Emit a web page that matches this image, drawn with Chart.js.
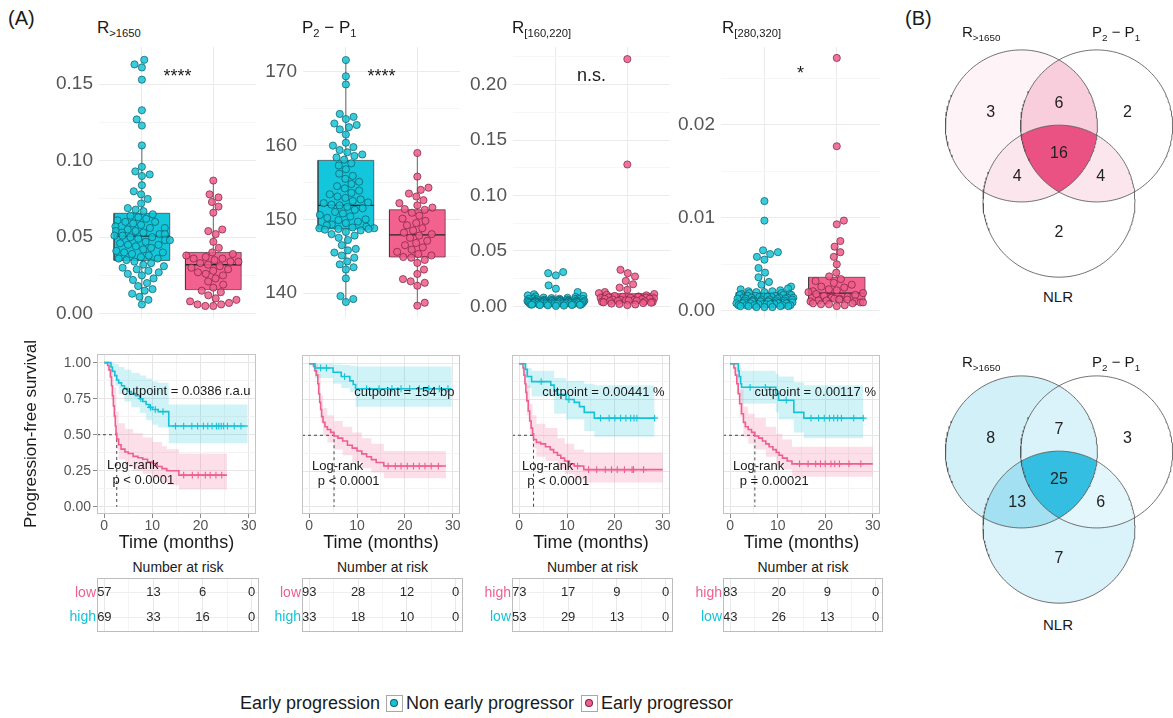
<!DOCTYPE html>
<html>
<head>
<meta charset="utf-8">
<script src="https://cdn.jsdelivr.net/npm/chart.js@4.4.1/dist/chart.umd.min.js"></script>
<style>
  html, body { margin: 0; padding: 0; background: #fff; }
  #fig { position: relative; width: 1173px; height: 718px; overflow: hidden;
         font-family: 'Liberation Sans', Arial, Helvetica, sans-serif; color: #1a1a1a; }
  #fig canvas { position: absolute; }
  .t { position: absolute; white-space: nowrap; line-height: 1; }
  .t sub { font-size: 0.66em; vertical-align: baseline; position: relative; top: 0.38em; }
  .key { position: absolute; width: 15px; height: 15px; border: 1px solid #a8a8a8; background: #fff; }
  .key i { position: absolute; left: 4px; top: 4px; width: 6px; height: 6px; border-radius: 50%; }
</style>
</head>
<body>
<div id="fig"></div>
<script>
// ---------------- colours ----------------
const CYAN = '#14c3d7', PINK = '#ef5f8d';
const CYAN_BOX = '#13c6dc', PINK_BOX = '#f3628f';

// ---------------- (A) box plots: one value per patient ----------------
const r1650Non = [0.166,0.163,0.161,0.153,0.133,0.127,0.123,0.110,0.096,0.093,0.091,0.090,0.084,0.080,0.078,0.075,0.072,0.069,0.068,0.067,
  0.065,0.064,0.063,0.062,0.061,0.060,0.060,0.059,0.058,0.057,0.056,0.056,0.055,0.054,0.054,0.053,0.053,0.052,0.052,0.051,0.051,
  0.050,0.050,0.049,0.048,0.048,0.047,0.046,0.045,0.045,0.044,0.043,0.042,0.041,0.040,0.040,0.039,0.038,0.037,0.036,0.036,0.035,
  0.034,0.033,0.032,0.031,0.030,0.029,0.028,0.027,0.026,0.025,0.023,0.022,0.020,0.018,0.016,0.015,0.013,0.011,0.009,0.006];
const r1650Early = [0.087,0.078,0.076,0.073,0.070,0.066,0.055,0.054,0.052,0.047,0.043,
  0.040,0.039,0.038,0.037,0.036,0.036,0.035,0.034,0.034,0.033,0.032,
  0.031,0.030,0.029,0.028,0.027,0.026,0.025,0.023,0.021,0.019,0.017,
  0.015,0.014,0.012,0.010,0.009,0.008,0.007,0.006,0.006,0.005,0.005];
const p2p1Non = [171.6,169.4,168.3,164.3,163.9,163.6,163.0,162.8,162.5,162.2,161.5,160.4,160.0,159.8,159.4,159.1,158.8,158.6,158.4,158.1,
  157.6,157.3,156.8,156.2,155.9,155.5,155.1,154.8,154.5,154.2,153.9,153.6,153.4,153.1,152.9,152.7,152.5,152.3,152.2,152.0,151.9,
  151.7,151.5,151.3,151.0,150.8,150.6,150.4,150.2,150.0,149.9,149.7,149.5,149.3,149.2,149.0,148.9,148.8,148.8,148.7,148.7,148.6,
  148.5,148.3,148.0,147.8,147.5,147.2,146.5,146.0,145.8,145.5,145.1,144.8,144.3,143.9,143.5,143.2,142.0,139.6,139.2,138.8];
const p2p1Early = [159.0,155.8,154.3,154.0,153.5,153.1,152.6,152.2,151.9,151.6,151.4,
  151.3,150.9,150.5,150.1,149.8,149.5,149.2,148.8,148.5,148.2,148.0,
  147.8,147.5,147.1,146.8,146.5,146.2,145.9,145.6,145.3,145.1,144.9,
  144.8,144.5,144.1,143.2,142.6,141.9,141.6,141.4,141.0,138.7,138.3];
const r160Non = [0.031,0.030,0.028,0.019,0.016,0.013,0.011,0.010,0.0095,0.009,0.0085,0.008,0.0078,0.0075,0.0072,0.007,0.0069,0.0068,0.0067,0.0066,
  0.0064,0.0062,0.006,0.0059,0.0058,0.0057,0.0056,0.0055,0.0054,0.0053,0.0052,0.0051,0.005,0.0049,0.0048,0.0048,0.0047,0.0047,0.0046,0.0046,0.0045,
  0.0044,0.0043,0.0042,0.0042,0.0041,0.004,0.0039,0.0038,0.0037,0.0037,0.0036,0.0035,0.0034,0.0034,0.0033,0.0033,0.0032,0.0031,0.0031,0.003,0.003,
  0.0029,0.0028,0.0027,0.0026,0.0025,0.0024,0.0023,0.0022,0.0021,0.002,0.0019,0.0018,0.0017,0.0016,0.0015,0.0013,0.0012,0.001,0.0008,0.0005];
const r160Early = [0.223,0.128,0.033,0.030,0.027,0.023,0.020,0.017,0.015,0.013,0.012,
  0.0112,0.0105,0.010,0.0095,0.009,0.0088,0.0085,0.0082,0.008,0.0078,0.0076,
  0.0073,0.007,0.0068,0.0065,0.0062,0.006,0.0058,0.0056,0.0054,0.0052,0.005,
  0.0048,0.0045,0.0042,0.004,0.0037,0.0034,0.003,0.0026,0.0022,0.0018,0.0012];
const r280Non = [0.0118,0.0097,0.0065,0.0063,0.0061,0.0058,0.0055,0.0046,0.0041,0.0036,0.0031,0.0028,0.0026,0.0024,0.0023,0.0022,0.0021,0.0021,0.002,0.002,
  0.0019,0.0019,0.0018,0.0018,0.0017,0.0017,0.0017,0.0016,0.0016,0.0016,0.0015,0.0015,0.0015,0.0015,0.0014,0.0014,0.0014,0.0014,0.0014,0.0013,0.0013,
  0.0013,0.0013,0.0012,0.0012,0.0012,0.0012,0.0011,0.0011,0.0011,0.0011,0.001,0.001,0.001,0.001,0.001,0.0009,0.0009,0.0009,0.0009,0.0008,0.0008,
  0.0008,0.0008,0.0008,0.0007,0.0007,0.0007,0.0007,0.0007,0.0006,0.0006,0.0006,0.0006,0.0006,0.0005,0.0005,0.0005,0.0005,0.0004,0.0004,0.0004];
const r280Early = [0.0272,0.0177,0.0097,0.0093,0.0075,0.0069,0.0063,0.0058,0.0050,0.0041,0.0037,
  0.0034,0.0032,0.003,0.0028,0.0026,0.0025,0.0023,0.0022,0.0021,0.002,0.0019,
  0.0018,0.0017,0.0016,0.0015,0.0015,0.0014,0.0013,0.0013,0.0012,0.0012,0.0011,
  0.0011,0.001,0.001,0.0009,0.0009,0.0008,0.0008,0.0007,0.0007,0.0006,0.0005];

// box statistics: [lower whisker, Q1, median, Q3, upper whisker]
const r1650BoxNon = [0.006, 0.0348, 0.0507, 0.0656, 0.110];
const r1650BoxEarly = [0.005, 0.0157, 0.032, 0.040, 0.087];
const p2p1BoxNon = [138.8, 148.7, 151.9, 158.0, 171.6];
const p2p1BoxEarly = [138.3, 144.9, 147.9, 151.3, 159.0];
const r160BoxNon = [0.0005, 0.003, 0.0045, 0.0065, 0.011];
const r160BoxEarly = [0.0012, 0.0045, 0.0072, 0.0115, 0.020];
const r280BoxNon = [0.0004, 0.00085, 0.00135, 0.00195, 0.0036];
const r280BoxEarly = [0.0005, 0.0011, 0.0019, 0.0036, 0.0069];

// y tick labels of the four box plots
const r1650Ticks = [0, 0.05, 0.10, 0.15];
const p2p1Ticks = [140, 150, 160, 170];
const r160Ticks = [0, 0.05, 0.10, 0.15, 0.20];
const r280Ticks = [0, 0.01, 0.02];
const signifLabels = ['****', '****', 'n.s.', '*'];

// ---------------- Kaplan-Meier curves (time in months, survival) ----------------
// panel 1: R>1650, cutpoint 0.0386 r.a.u
const km1HighT = [0, 1.4, 1.7, 2.2, 2.6, 3.0, 3.6, 4.2, 4.8, 5.6, 6.5, 7.4, 8.0, 8.7, 9.3, 10.0, 11.2, 13.4];
const km1HighS = [1, 0.97, 0.94, 0.91, 0.88, 0.86, 0.84, 0.82, 0.80, 0.785, 0.77, 0.75, 0.73, 0.71, 0.69, 0.675, 0.66, 0.56];
const km1HighCiT = [0, 1.4, 2.2, 3.0, 4.2, 5.6, 7.4, 8.7, 10.0, 11.2, 13.4];
const km1HighUp = [1, 1, 0.99, 0.97, 0.95, 0.93, 0.91, 0.89, 0.87, 0.86, 0.71];
const km1HighLo = [1, 0.93, 0.84, 0.78, 0.73, 0.69, 0.65, 0.60, 0.57, 0.55, 0.44];
const km1HighCens = [7.6, 9.6, 10.6, 12.2, 14.8, 16.5, 18.2, 19.4, 20.6, 21.5, 22.4, 23.3, 23.8, 24.3, 24.8, 25.6, 27.0, 28.4];
const km1HighEnd = 29.8;
const km1LowT = [0, 0.7, 1.0, 1.3, 1.5, 1.7, 1.9, 2.1, 2.3, 2.45, 2.6, 3.0, 3.5, 4.3, 5.0, 6.0, 7.0, 8.0, 9.0, 10.0, 11.0, 12.0, 13.0, 15.5];
const km1LowS = [1, 0.98, 0.95, 0.90, 0.84, 0.77, 0.70, 0.63, 0.56, 0.51, 0.47, 0.43, 0.40, 0.38, 0.37, 0.35, 0.34, 0.33, 0.31, 0.30, 0.28, 0.265, 0.25, 0.22];
const km1LowCiT = [0, 0.7, 1.0, 1.5, 2.0, 2.5, 3.0, 4.3, 6.0, 8.0, 10.0, 12.0, 13.0, 15.5];
const km1LowUp = [1, 1, 1, 0.95, 0.83, 0.66, 0.58, 0.54, 0.51, 0.48, 0.45, 0.42, 0.40, 0.37];
const km1LowLo = [1, 0.94, 0.90, 0.74, 0.61, 0.40, 0.33, 0.28, 0.25, 0.23, 0.20, 0.17, 0.15, 0.12];
const km1LowCens = [16.5, 18.3, 19.5, 21.0, 22.0, 23.2, 24.4];
const km1LowEnd = 25.5;

// panel 2: P2 - P1, cutpoint 154 bp
const km2HighT = [0, 1.2, 5.0, 6.7, 8.5, 9.2, 9.7];
const km2HighS = [1, 0.97, 0.94, 0.91, 0.88, 0.855, 0.825];
const km2HighCiT = [0, 1.2, 5.0, 6.7, 8.5, 9.7];
const km2HighUp = [1, 1, 0.995, 0.99, 0.985, 0.98];
const km2HighLo = [1, 0.90, 0.86, 0.83, 0.80, 0.70];
const km2HighCens = [2.4, 3.6, 7.4, 12.0, 14.6, 17.3, 19.2, 21.0, 23.0, 25.0, 27.2, 29.0];
const km2HighEnd = 29.8;
const km2LowT = [0, 0.9, 1.2, 1.5, 1.8, 2.0, 2.2, 2.4, 2.6, 2.9, 3.3, 3.8, 4.5, 5.2, 6.0, 7.0, 8.0, 9.0, 10.0, 11.0, 12.0, 13.0, 14.0, 15.6];
const km2LowS = [1, 0.98, 0.95, 0.92, 0.86, 0.79, 0.73, 0.68, 0.63, 0.59, 0.56, 0.54, 0.52, 0.495, 0.48, 0.46, 0.43, 0.41, 0.39, 0.37, 0.35, 0.33, 0.31, 0.285];
const km2LowCiT = [0, 0.9, 1.2, 1.8, 2.4, 2.9, 3.8, 5.2, 7.0, 9.0, 11.0, 13.0, 15.6];
const km2LowUp = [1, 1, 1, 0.93, 0.78, 0.69, 0.64, 0.60, 0.56, 0.52, 0.48, 0.44, 0.39];
const km2LowLo = [1, 0.95, 0.91, 0.79, 0.59, 0.50, 0.45, 0.40, 0.36, 0.31, 0.27, 0.24, 0.20];
const km2LowCens = [16.5, 18.0, 19.2, 20.5, 21.8, 23.0, 24.2, 25.5, 27.0];
const km2LowEnd = 28.6;

// panel 3: R[160,220], cutpoint 0.00441 %
const km3LowT = [0, 1.3, 1.7, 2.6, 6.6, 7.3, 8.0, 9.8, 11.5, 12.6, 13.6, 15.7];
const km3LowS = [1, 0.96, 0.91, 0.875, 0.85, 0.81, 0.785, 0.75, 0.73, 0.70, 0.66, 0.62];
const km3LowCiT = [0, 1.3, 1.7, 2.6, 7.3, 9.8, 13.6, 15.7];
const km3LowUp = [1, 1, 0.97, 0.95, 0.90, 0.88, 0.86, 0.85];
const km3LowLo = [1, 0.90, 0.83, 0.77, 0.65, 0.61, 0.53, 0.49];
const km3LowCens = [4.6, 10.4, 17.0, 18.8, 20.0, 21.2, 22.3, 23.3, 24.0, 24.6, 28.3];
const km3LowEnd = 28.3;
const km3HighT = [0, 0.8, 1.0, 1.2, 1.4, 1.6, 1.9, 2.2, 2.5, 2.8, 3.0, 3.6, 4.5, 5.5, 6.5, 7.2, 8.0, 8.7, 9.5, 10.5, 11.5, 13.5];
const km3HighS = [1, 0.97, 0.92, 0.86, 0.80, 0.74, 0.67, 0.60, 0.55, 0.51, 0.47, 0.45, 0.44, 0.42, 0.40, 0.38, 0.36, 0.34, 0.32, 0.30, 0.285, 0.26];
const km3HighCiT = [0, 0.8, 1.2, 1.6, 2.2, 2.8, 3.6, 5.5, 8.0, 9.5, 11.5, 13.5];
const km3HighUp = [1, 1, 0.95, 0.85, 0.72, 0.64, 0.58, 0.55, 0.48, 0.44, 0.40, 0.38];
const km3HighLo = [1, 0.93, 0.78, 0.64, 0.50, 0.41, 0.35, 0.32, 0.26, 0.23, 0.19, 0.17];
const km3HighCens = [12.2, 14.5, 16.2, 18.0, 19.3, 20.5, 22.0, 23.6, 23.9, 26.0];
const km3HighEnd = 30;

// panel 4: R[280,320], cutpoint 0.00117 %
const km4LowT = [0, 1.7, 1.9, 2.2, 2.4, 9.6, 10.2, 13.4, 15.5];
const km4LowS = [1, 0.95, 0.91, 0.86, 0.835, 0.79, 0.745, 0.66, 0.62];
const km4LowCiT = [0, 1.7, 2.2, 2.4, 9.6, 10.2, 13.4, 15.5];
const km4LowUp = [1, 1, 0.97, 0.95, 0.93, 0.91, 0.87, 0.85];
const km4LowLo = [1, 0.89, 0.77, 0.72, 0.66, 0.61, 0.52, 0.48];
const km4LowCens = [4.2, 7.4, 11.8, 17.0, 18.6, 19.8, 20.9, 21.8, 22.6, 23.4, 26.0, 28.0];
const km4LowEnd = 28.0;
const km4HighT = [0, 0.8, 1.1, 1.4, 1.7, 2.0, 2.4, 2.8, 3.2, 3.8, 4.5, 5.2, 6.0, 6.8, 7.5, 8.2, 9.0, 9.7, 10.3, 11.0, 12.0, 13.0];
const km4HighS = [1, 0.97, 0.92, 0.86, 0.79, 0.72, 0.65, 0.59, 0.56, 0.54, 0.52, 0.495, 0.48, 0.46, 0.44, 0.42, 0.40, 0.38, 0.36, 0.34, 0.32, 0.30];
const km4HighCiT = [0, 0.8, 1.4, 2.0, 2.8, 3.8, 5.2, 7.5, 9.7, 11.0, 13.0];
const km4HighUp = [1, 1, 0.94, 0.82, 0.70, 0.65, 0.62, 0.56, 0.51, 0.47, 0.42];
const km4HighLo = [1, 0.93, 0.79, 0.63, 0.49, 0.44, 0.40, 0.35, 0.29, 0.26, 0.21];
const km4HighCens = [14.6, 16.4, 18.0, 19.0, 20.0, 21.2, 22.0, 23.0, 25.0, 27.5];
const km4HighEnd = 30;

const survTicks = [0, 0.25, 0.5, 0.75, 1];
const timeTicks = [0, 10, 20, 30];
const cutpointLabels = ['cutpoint = 0.0386 r.a.u', 'cutpoint = 154 bp', 'cutpoint = 0.00441 %', 'cutpoint = 0.00117 %'];
const pValueLabels = ['p < 0.0001', 'p < 0.0001', 'p < 0.0001', 'p = 0.00021'];

// ---------------- numbers at risk at timeTicks ----------------
const risk1Low = [57, 13, 6, 0], risk1High = [69, 33, 16, 0];
const risk2Low = [93, 28, 12, 0], risk2High = [33, 18, 10, 0];
const risk3High = [73, 17, 9, 0], risk3Low = [53, 29, 13, 0];
const risk4High = [83, 20, 9, 0], risk4Low = [43, 26, 13, 0];

// ---------------- (B) Venn diagrams: counts per region ----------------
const vennRegions = ['A', 'AB', 'B', 'ABC', 'AC', 'BC', 'C'];
const vennEarly = [3, 6, 2, 16, 4, 4, 2];
const vennNonEarly = [8, 7, 3, 25, 13, 6, 7];

// =====================================================================
const FONT = "'Liberation Sans', Arial, Helvetica, sans-serif";
Chart.defaults.font.family = FONT;
Chart.defaults.color = '#4d4d4d';
const fig = document.getElementById('fig');

// text drawn at data coordinates
Chart.register({
  id: 'notes',
  afterDatasetsDraw(chart, args, opts) {
    const items = (opts && opts.items) || [];
    const xs = chart.scales.x, ys = chart.scales.y, ctx = chart.ctx;
    ctx.save();
    for (const it of items) {
      ctx.font = it.font || ('13px ' + FONT);
      ctx.fillStyle = it.color || '#1a1a1a';
      ctx.textAlign = it.align || 'center';
      ctx.textBaseline = it.baseline || 'middle';
      ctx.fillText(it.text, xs.getPixelForValue(it.x), ys.getPixelForValue(it.y));
    }
    ctx.restore();
  }
});
// panel border
Chart.register({
  id: 'frame',
  afterDatasetsDraw(chart, args, opts) {
    if (!opts || !opts.color) return;
    const a = chart.chartArea, ctx = chart.ctx;
    ctx.save();
    ctx.strokeStyle = opts.color;
    ctx.lineWidth = 1;
    ctx.strokeRect(Math.round(a.left) + 0.5, Math.round(a.top) + 0.5,
                   Math.round(a.right - a.left) - 1, Math.round(a.bottom - a.top) - 1);
    ctx.restore();
  }
});

function addText(html, x, base, size, align, color) {
  const d = document.createElement('div');
  d.className = 't';
  d.innerHTML = html;
  d.style.fontSize = size + 'px';
  d.style.left = x + 'px';
  d.style.top = (base - 0.847 * size) + 'px';
  if (align === 'center') d.style.transform = 'translateX(-50%)';
  if (align === 'right') d.style.transform = 'translateX(-100%)';
  if (color) d.style.color = color;
  fig.appendChild(d);
}

function chartAt(plot, m, config) {
  const w = plot.r - plot.l + m.l + m.r, h = plot.b - plot.t + m.t + m.b;
  const cv = document.createElement('canvas');
  cv.width = w; cv.height = h;
  Object.assign(cv.style, { left: (plot.l - m.l) + 'px', top: (plot.t - m.t) + 'px', width: w + 'px', height: h + 'px' });
  fig.appendChild(cv);
  const o = config.options;
  o.responsive = false; o.animation = false; o.devicePixelRatio = 1; o.events = [];
  o.layout = { padding: { left: 0, top: m.t, right: m.r, bottom: 0 } };
  o.plugins = Object.assign({ legend: { display: false }, tooltip: { enabled: false } }, o.plugins || {});
  o.scales.x.afterFit = s => { s.height = m.b; s.paddingLeft = 0; s.paddingRight = 0; };
  o.scales.y.afterFit = s => { s.width = m.l; s.paddingTop = 0; s.paddingBottom = 0; };
  return new Chart(cv, config);
}

function withMinor(majors, lo, hi) {
  const step = majors[1] - majors[0];
  const out = majors.slice();
  for (let i = -1; i < majors.length; i++) {
    const v = +((i < 0 ? majors[0] - step / 2 : majors[i] + step / 2).toFixed(8));
    if (v > lo && v < hi) out.push(v);
  }
  return out.sort((a, b) => a - b);
}

function poly(pts, color, width, extra) {
  return Object.assign({ type: 'scatter', showLine: true, data: pts, borderColor: color, borderWidth: width,
                         pointRadius: 0, fill: false, clip: false }, extra || {});
}

// beeswarm placement of points (pixel space), wrapped inside the box width
function swarmX(values, center, chart, spacing, halfWidth) {
  const xs = chart.scales.x, ys = chart.scales.y;
  const pxu = xs.getPixelForValue(center + 1) - xs.getPixelForValue(center);
  const order = values.map((v, i) => i).sort((a, b) => values[a] - values[b]);
  const placed = [], res = new Array(values.length), lim = halfWidth * pxu;
  for (const i of order) {
    const py = ys.getPixelForValue(values[i]);
    const blocked = [];
    for (const q of placed) {
      const dy = py - q.py;
      if (Math.abs(dy) < spacing) {
        const dx = Math.sqrt(spacing * spacing - dy * dy);
        blocked.push([q.px - dx, q.px + dx]);
      }
    }
    const cands = [0];
    for (const [a, b] of blocked) cands.push(a, b);
    cands.sort((a, b) => Math.abs(a) - Math.abs(b) || (i % 2 ? a - b : b - a));
    let px = 0;
    for (const c of cands) {
      if (blocked.every(([a, b]) => c <= a + 1e-9 || c >= b - 1e-9)) { px = c; break; }
    }
    placed.push({ py, px });
    let wx = px;
    if (Math.abs(wx) > lim) wx = (((wx + lim) % (2 * lim)) + 2 * lim) % (2 * lim) - lim;
    res[i] = center + wx / pxu;
  }
  return res;
}

// ---------------- (A) top row: box plots ----------------
const HW = 0.39;
function boxPanel(p) {
  const all = withMinor(p.ticks, p.yMin, p.yMax);
  const isMajor = v => p.ticks.includes(v);
  const rect = (c, b) => [{ x: c - HW, y: b[1] }, { x: c + HW, y: b[1] }, { x: c + HW, y: b[3] }, { x: c - HW, y: b[3] }, { x: c - HW, y: b[1] }];
  const chart = chartAt(p.plot, { l: 80, r: 2, t: 2, b: 0 }, {
    type: 'scatter',
    data: { datasets: [
      { data: p.non.map(v => ({ x: 1, y: v })), pointRadius: 3.6, borderWidth: 0.8,
        backgroundColor: 'rgba(20,196,214,0.85)', borderColor: 'rgba(12,92,104,0.9)' },
      { data: p.early.map(v => ({ x: 2, y: v })), pointRadius: 3.6, borderWidth: 0.8,
        backgroundColor: 'rgba(238,92,138,0.85)', borderColor: 'rgba(122,34,64,0.9)' },
      poly([{ x: 1 - HW, y: p.boxNon[2] }, { x: 1 + HW, y: p.boxNon[2] }], '#262626', 1.4),
      poly([{ x: 2 - HW, y: p.boxEarly[2] }, { x: 2 + HW, y: p.boxEarly[2] }], '#262626', 1.4),
      poly(rect(1, p.boxNon), '#3a3a3a', 0.7, { fill: 'shape', backgroundColor: CYAN_BOX }),
      poly(rect(2, p.boxEarly), '#3a3a3a', 0.7, { fill: 'shape', backgroundColor: PINK_BOX }),
      poly([{ x: 1, y: p.boxNon[0] }, { x: 1, y: p.boxNon[4] }], '#555', 0.9),
      poly([{ x: 2, y: p.boxEarly[0] }, { x: 2, y: p.boxEarly[4] }], '#555', 0.9)
    ] },
    options: {
      scales: {
        x: { type: 'linear', min: 0.4, max: 2.6, afterBuildTicks: s => { s.ticks = [{ value: 1 }, { value: 2 }]; },
             ticks: { display: false }, grid: { color: '#ebebeb', drawTicks: false }, border: { display: false } },
        y: { type: 'linear', min: p.yMin, max: p.yMax, afterBuildTicks: s => { s.ticks = all.map(v => ({ value: v })); },
             ticks: { autoSkip: false, padding: 6, color: '#555', font: { size: 19 },
                      callback: v => isMajor(v) ? v.toFixed(p.dec) : '' },
             grid: { drawTicks: false, color: c => (c.tick && isMajor(c.tick.value)) ? '#ebebeb' : '#f6f6f6' },
             border: { display: false } }
      },
      plugins: { notes: { items: [{ x: 1.5, y: p.signifY, text: p.signif, baseline: 'alphabetic', font: '18px ' + FONT }] } }
    }
  });
  chart.data.datasets[0].data = swarmX(p.non, 1, chart, 8, 0.4).map((x, i) => ({ x, y: p.non[i] }));
  chart.data.datasets[1].data = swarmX(p.early, 2, chart, 8, 0.4).map((x, i) => ({ x, y: p.early[i] }));
  chart.update('none');
}

const boxPlots = [
  { plot: { l: 99, r: 259, t: 44, b: 323 }, non: r1650Non, early: r1650Early, boxNon: r1650BoxNon, boxEarly: r1650BoxEarly,
    ticks: r1650Ticks, dec: 2, yMin: -0.003, yMax: 0.1745, signif: signifLabels[0], signifY: 0.1515 },
  { plot: { l: 303, r: 463, t: 44, b: 323 }, non: p2p1Non, early: p2p1Early, boxNon: p2p1BoxNon, boxEarly: p2p1BoxEarly,
    ticks: p2p1Ticks, dec: 0, yMin: 136.6, yMax: 173.4, signif: signifLabels[1], signifY: 168.6 },
  { plot: { l: 513, r: 673, t: 44, b: 323 }, non: r160Non, early: r160Early, boxNon: r160BoxNon, boxEarly: r160BoxEarly,
    ticks: r160Ticks, dec: 2, yMin: -0.0106, yMax: 0.2341, signif: signifLabels[2], signifY: 0.2035 },
  { plot: { l: 721, r: 883, t: 44, b: 323 }, non: r280Non, early: r280Early, boxNon: r280BoxNon, boxEarly: r280BoxEarly,
    ticks: r280Ticks, dec: 2, yMin: -0.0008, yMax: 0.0284, signif: signifLabels[3], signifY: 0.0249 }
];
boxPlots.forEach(boxPanel);

// ---------------- (A) middle row: Kaplan-Meier ----------------
const stepAt = (t, s, x) => { let v = s[0]; for (let i = 0; i < t.length; i++) if (t[i] <= x) v = s[i]; return v; };
const stepData = (t, s, end) => t.map((x, i) => ({ x, y: s[i] })).concat([{ x: end, y: s[s.length - 1] }]);
const T_MIN = -1.5, T_MAX = 31.5;

function kmPanel(k, idx) {
  const first = idx === 0;
  const m = first ? { l: 80, r: 2, t: 22, b: 42 } : { l: 8, r: 2, t: 4, b: 42 };
  const sAll = withMinor(survTicks, -0.05, 1.06), tAll = withMinor(timeTicks, T_MIN, T_MAX);
  const med = k.groups.map(g => { const i = g.s.findIndex(v => v <= 0.5); return i < 0 ? null : g.t[i]; }).find(v => v !== null);
  const [g1, g2] = k.groups;   // g1: cyan, g2: pink
  const line = (g) => poly(stepData(g.t, g.s, g.end), g.color, 1.6, { stepped: true, clip: 2 });
  const cens = (g) => ({ type: 'scatter', data: g.cens.map(x => ({ x, y: stepAt(g.t, g.s, x) })), pointStyle: 'cross',
                         pointRadius: 3.4, borderWidth: 1.1, borderColor: g.color, backgroundColor: g.color });
  const ds = [
    line(g1), line(g2), cens(g1), cens(g2),
    poly([{ x: T_MIN, y: 0.5 }, { x: med, y: 0.5 }, { x: med, y: 0 }], '#333', 0.9, { borderDash: [3, 3] }),
    poly(stepData(g1.ciT, g1.up, g1.end), 'rgba(0,0,0,0)', 0, { stepped: true }),
    poly(stepData(g1.ciT, g1.lo, g1.end), 'rgba(0,0,0,0)', 0, { stepped: true, fill: 5, backgroundColor: 'rgba(20,195,215,0.2)' }),
    poly(stepData(g2.ciT, g2.up, g2.end), 'rgba(0,0,0,0)', 0, { stepped: true }),
    poly(stepData(g2.ciT, g2.lo, g2.end), 'rgba(0,0,0,0)', 0, { stepped: true, fill: 7, backgroundColor: 'rgba(239,95,141,0.2)' })
  ];
  chartAt(k.plot, m, {
    type: 'scatter',
    data: { datasets: ds },
    options: {
      scales: {
        x: { type: 'linear', min: T_MIN, max: T_MAX, afterBuildTicks: s => { s.ticks = tAll.map(v => ({ value: v })); },
             ticks: { autoSkip: false, maxRotation: 0, padding: 0, color: '#555', font: { size: 14 },
                      callback: v => timeTicks.includes(v) ? String(v) : '' },
             grid: { color: c => timeTicks.includes(c.tick && c.tick.value) ? '#e6e6e6' : '#f3f3f3', tickLength: 4,
                     tickColor: c => timeTicks.includes(c.tick && c.tick.value) ? '#8a8a8a' : 'rgba(0,0,0,0)' },
             border: { display: false },
             title: { display: true, text: 'Time (months)', color: '#1a1a1a', font: { size: 18 }, padding: { top: 0, bottom: 2 } } },
        y: { type: 'linear', min: -0.05, max: 1.06, afterBuildTicks: s => { s.ticks = sAll.map(v => ({ value: v })); },
             ticks: { display: first, autoSkip: false, padding: 2, color: '#555', font: { size: 14 },
                      callback: v => survTicks.includes(v) ? v.toFixed(2) : '' },
             grid: { color: c => survTicks.includes(c.tick && c.tick.value) ? '#e6e6e6' : '#f3f3f3', drawTicks: first, tickLength: 4,
                     tickColor: c => survTicks.includes(c.tick && c.tick.value) ? '#8a8a8a' : 'rgba(0,0,0,0)' },
             border: { display: false },
             title: { display: first, text: 'Progression-free survival', color: '#1a1a1a', font: { size: 17 }, padding: { top: 4, bottom: 0 } } }
      },
      plugins: {
        frame: { color: '#c4c4c4' },
        notes: { items: [
          { x: k.cutX, y: 0.80, text: k.cut },
          { x: 0.6, y: 0.285, text: 'Log-rank', align: 'left' },
          { x: k.pX, y: 0.18, text: k.p, align: 'left' }
        ] }
      }
    }
  });
}

const grp = (t, s, end, ciT, up, lo, cens, color) => ({ t, s, end, ciT, up, lo, cens, color });
const kmPanels = [
  { plot: { l: 97, r: 259, t: 354, b: 514 }, cut: cutpointLabels[0], cutX: 17.0, p: pValueLabels[0], pX: 1.7,
    groups: [grp(km1HighT, km1HighS, km1HighEnd, km1HighCiT, km1HighUp, km1HighLo, km1HighCens, CYAN),
             grp(km1LowT, km1LowS, km1LowEnd, km1LowCiT, km1LowUp, km1LowLo, km1LowCens, PINK)] },
  { plot: { l: 302, r: 463, t: 354, b: 514 }, cut: cutpointLabels[1], cutX: 19.9, p: pValueLabels[1], pX: 1.8,
    groups: [grp(km2HighT, km2HighS, km2HighEnd, km2HighCiT, km2HighUp, km2HighLo, km2HighCens, CYAN),
             grp(km2LowT, km2LowS, km2LowEnd, km2LowCiT, km2LowUp, km2LowLo, km2LowCens, PINK)] },
  { plot: { l: 512, r: 673, t: 354, b: 514 }, cut: cutpointLabels[2], cutX: 17.6, p: pValueLabels[2], pX: 1.7,
    groups: [grp(km3LowT, km3LowS, km3LowEnd, km3LowCiT, km3LowUp, km3LowLo, km3LowCens, CYAN),
             grp(km3HighT, km3HighS, km3HighEnd, km3HighCiT, km3HighUp, km3HighLo, km3HighCens, PINK)] },
  { plot: { l: 723, r: 883, t: 354, b: 514 }, cut: cutpointLabels[3], cutX: 17.9, p: pValueLabels[3], pX: 2.0,
    groups: [grp(km4LowT, km4LowS, km4LowEnd, km4LowCiT, km4LowUp, km4LowLo, km4LowCens, CYAN),
             grp(km4HighT, km4HighS, km4HighEnd, km4HighCiT, km4HighUp, km4HighLo, km4HighCens, PINK)] }
];
kmPanels.forEach(kmPanel);

// ---------------- (A) bottom row: numbers at risk ----------------
const riskTables = [
  { top: ['low', PINK, risk1Low], bottom: ['high', CYAN, risk1High] },
  { top: ['low', PINK, risk2Low], bottom: ['high', CYAN, risk2High] },
  { top: ['high', PINK, risk3High], bottom: ['low', CYAN, risk3Low] },
  { top: ['high', PINK, risk4High], bottom: ['low', CYAN, risk4Low] }
];
riskTables.forEach((rt, i) => {
  const kp = kmPanels[i].plot;
  const plot = { l: kp.l, r: kp.r, t: 578, b: 632 };
  const tAll = withMinor(timeTicks, T_MIN, T_MAX);
  const items = [];
  timeTicks.forEach((t, j) => {
    items.push({ x: t, y: 2, text: String(rt.top[2][j]), color: '#2a2a2a' });
    items.push({ x: t, y: 1, text: String(rt.bottom[2][j]), color: '#2a2a2a' });
  });
  chartAt(plot, { l: 40, r: 2, t: 2, b: 2 }, {
    type: 'scatter',
    data: { datasets: [] },
    options: {
      scales: {
        x: { type: 'linear', min: T_MIN, max: T_MAX, afterBuildTicks: s => { s.ticks = tAll.map(v => ({ value: v })); },
             ticks: { display: false }, grid: { drawTicks: false, color: c => timeTicks.includes(c.tick && c.tick.value) ? '#e8e8e8' : '#f4f4f4' },
             border: { display: false } },
        y: { type: 'linear', min: 0.4, max: 2.6, afterBuildTicks: s => { s.ticks = [{ value: 1 }, { value: 2 }]; },
             ticks: { autoSkip: false, padding: 1, font: { size: 14 }, callback: v => v === 2 ? rt.top[0] : rt.bottom[0],
                      color: c => c.tick && c.tick.value === 2 ? rt.top[1] : rt.bottom[1] },
             grid: { drawTicks: false, color: '#eeeeee' }, border: { display: false } }
      },
      plugins: { frame: { color: '#bdbdbd' }, notes: { items: items.map(o => Object.assign(o, { font: '13px ' + FONT })) } }
    }
  });
  addText('Number at risk', (plot.l + plot.r) / 2, 572, 14, 'center', '#1a1a1a');
});

// ---------------- (B) Venn diagrams ----------------
const vennCircles = [{ x: -0.495, y: 0.33 }, { x: 0.495, y: 0.33 }, { x: 0, y: -0.66 }];
const vennMembers = { A: [1, 0, 0], AB: [1, 1, 0], B: [0, 1, 0], ABC: [1, 1, 1], AC: [1, 0, 1], BC: [0, 1, 1], C: [0, 0, 1] };
const vennTextPos = { A: [-0.9, 0.51], AB: [0, 0.63], B: [0.9, 0.51], ABC: [0, -0.04], AC: [-0.55, -0.34], BC: [0.55, -0.34], C: [0, -1.08] };

const inCircle = (c, p) => (p[0] - c.x) ** 2 + (p[1] - c.y) ** 2 < 1;
function regionOutline(member) {
  const N = 720, arcs = [];
  vennCircles.forEach((c, i) => {
    const pts = [], ok = [];
    for (let k = 0; k < N; k++) {
      const a = 2 * Math.PI * k / N, p = [c.x + Math.cos(a), c.y + Math.sin(a)];
      pts.push(p);
      ok.push(vennCircles.every((d, j) => j === i || inCircle(d, p) === !!member[j]));
    }
    const s0 = ok.findIndex(v => !v);
    if (s0 < 0) { arcs.push(pts.concat([pts[0]])); return; }
    let run = null;
    for (let s = 1; s <= N; s++) {
      const k = (s0 + s) % N;
      if (ok[k]) (run = run || []).push(pts[k]);
      else if (run) { arcs.push(run); run = null; }
    }
    if (run) arcs.push(run);
  });
  const d2 = (a, b) => (a[0] - b[0]) ** 2 + (a[1] - b[1]) ** 2;
  const out = arcs.shift().slice();
  while (arcs.length) {
    const end = out[out.length - 1];
    let best = 0, bestD = Infinity, rev = false;
    arcs.forEach((a, j) => {
      const s = d2(end, a[0]), e = d2(end, a[a.length - 1]);
      if (s < bestD) { bestD = s; best = j; rev = false; }
      if (e < bestD) { bestD = e; best = j; rev = true; }
    });
    const a = arcs.splice(best, 1)[0];
    out.push(...(rev ? a.slice().reverse() : a));
  }
  out.push(out[0]);
  return out.map(p => ({ x: p[0], y: p[1] }));
}

function vennPanel(counts, rgb, plot, centre) {
  const lo = Math.min(...counts), hi = Math.max(...counts);
  const shade = n => { const t = (n - lo) / (hi - lo);
    return `rgb(${Math.round(255 + (rgb[0] - 255) * t)},${Math.round(255 + (rgb[1] - 255) * t)},${Math.round(255 + (rgb[2] - 255) * t)})`; };
  const U = 76;
  const outlines = vennCircles.map(c => {
    const pts = [];
    for (let k = 0; k <= 240; k++) { const a = 2 * Math.PI * k / 240; pts.push({ x: c.x + Math.cos(a), y: c.y + Math.sin(a) }); }
    return poly(pts, 'rgba(85,85,85,0.85)', 1);
  });
  const fills = vennRegions.map((r, i) => poly(regionOutline(vennMembers[r]), 'rgba(0,0,0,0)', 0,
                                                { fill: 'shape', backgroundColor: shade(counts[i]) }));
  chartAt(plot, { l: 0, r: 0, t: 0, b: 0 }, {
    type: 'scatter',
    data: { datasets: outlines.concat(fills) },
    options: {
      scales: {
        x: { type: 'linear', display: false, min: (plot.l - centre[0]) / U, max: (plot.r - centre[0]) / U },
        y: { type: 'linear', display: false, min: (centre[1] - plot.b) / U, max: (centre[1] - plot.t) / U }
      },
      plugins: { notes: { items: vennRegions.map((r, i) => ({ x: vennTextPos[r][0], y: vennTextPos[r][1], text: String(counts[i]),
                                                              font: '16px ' + FONT, color: '#222' })) } }
    }
  });
}
vennPanel(vennEarly, [235, 82, 132], { l: 935, r: 1173, t: 38, b: 288 }, [1059, 151]);
vennPanel(vennNonEarly, [52, 190, 226], { l: 935, r: 1173, t: 364, b: 614 }, [1059, 477]);

// ---------------- titles, set names and legend ----------------
addText('(A)', 8, 25, 20);
addText('(B)', 905, 25, 20);
addText('R<sub>&gt;1650</sub>', 97, 33, 17);
addText('P<sub>2</sub> − P<sub>1</sub>', 302, 33, 17);
addText('R<sub>[160,220]</sub>', 512, 33, 17);
addText('R<sub>[280,320]</sub>', 722, 33, 17);
[[37, 302], [367, 630]].forEach(([yTop, yBottom]) => {
  addText('R<sub>&gt;1650</sub>', 962, yTop, 15);
  addText('P<sub>2</sub> − P<sub>1</sub>', 1092, yTop, 15);
  addText('NLR', 1058, yBottom, 15, 'center');
});

addText('Early progression', 240, 709, 18);
addText('Non early progressor', 406, 709, 18);
addText('Early progressor', 601, 709, 18);
[[386, CYAN, '#0d5f6b'], [581, PINK, '#7a2240']].forEach(([x, col, edge]) => {
  const k = document.createElement('div');
  k.className = 'key';
  k.style.left = x + 'px'; k.style.top = '695px';
  k.innerHTML = `<i style="background:${col};box-shadow:0 0 0 1px ${edge}"></i>`;
  fig.appendChild(k);
});
</script>
</body>
</html>
